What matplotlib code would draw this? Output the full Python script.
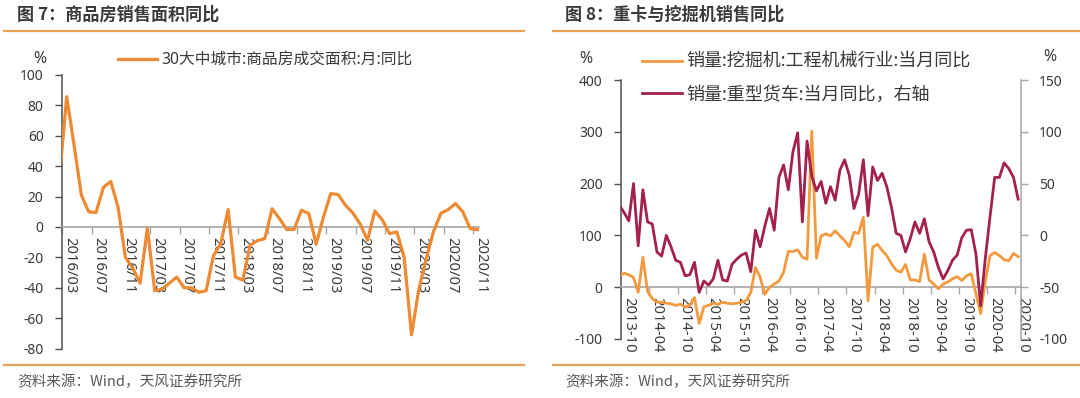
import numpy as np
import pandas as pd
import matplotlib
matplotlib.use('Agg')
import matplotlib.pyplot as plt
from matplotlib.lines import Line2D

plt.rcParams['font.family'] = ['Noto Sans', 'Noto Sans CJK SC', 'DejaVu Sans']
plt.rcParams['axes.unicode_minus'] = False

# ---------------- data ----------------
left_title = '图 7：商品房销售面积同比'
right_title = '图 8：重卡与挖掘机销售同比'
source_text = '资料来源：Wind，天风证券研究所'

house_label = '30大中城市:商品房成交面积:月:同比'
house_start, house_end = '2016-02', '2020-11'
house_yoy = [32, 85.7, 54, 21, 10, 9.5, 26, 30, 13, -20,
             -27, -37, -1, -42, -41, -37, -33, -40, -40, -43,
             -42, -19, -11, 11.5, -33, -35, -12, -9, -7.7, 12,
             5.5, -1.7, -1.7, 11, 8.8, -11.4, 6.6, 22, 21.3, 14.3,
             9.2, 2, -8.8, 10.5, 4.8, -4.4, -3.3, -20, -71, -41,
             -21, -3, 9, 11.4, 15.4, 9.9, -1.1, -1.8]
house_ticks = ['2016/03', '2016/07', '2016/11', '2017/03', '2017/07',
               '2017/11', '2018/03', '2018/07', '2018/11', '2019/03',
               '2019/07', '2019/11', '2020/03', '2020/07', '2020/11']
house_yticks = [-80, -60, -40, -20, 0, 20, 40, 60, 80, 100]

excav_label = '销量:挖掘机:工程机械行业:当月同比'
truck_label = '销量:重型货车:当月同比，右轴'
mach_start, mach_end = '2013-09', '2020-10'
excav_yoy = [22, 27, 24, 19, -10, 58, -8, -22, -29, -29,
             -31, -32, -35, -33, -38, -35, -20, -70, -38, -35,
             -31, -33, -29, -31, -32, -31, -29, -26, -10, 38,
             19, -14, 0, 6, 12, 29, 69, 69, 72, 58,
             54, 301, 56, 99, 103, 99, 109, 99, 90, 78,
             106, 104, 135, -26, 77, 83, 71, 61, 45, 33,
             29, 44, 14, 14, 11, 64, 14, 6, -3, 6,
             10, 16, 20.5, 13, 22, 26, -13, -51, 12, 61,
             67, 61, 53, 51, 65, 59]
truck_yoy = [29, 22, 14, 50, -10, 44, 13, 11, -16, -20,
             0, -11, -24, -26, -39, -38, -26, -55, -44, -48,
             -42, -24, -43, -44, -28, -23, -19, -17, -35, 5,
             -11, 9, 26, 5, 56, 68, 44, 81, 99, 13,
             91, 57, 43, 52, 31, 47, 34, 63, 73, 58,
             26, 40, 73, 19, 66, 53, 60, 47, 27, 2,
             0, -16, -3, 13, 2, 16, -6, -16, -31, -42,
             -34, -24, -19, -2, 5, 5.5, -18, -68, -22, 18,
             56, 56, 70, 64.5, 56, 35]
mach_ticks = ['2013-10', '2014-04', '2014-10', '2015-04', '2015-10',
              '2016-04', '2016-10', '2017-04', '2017-10', '2018-04',
              '2018-10', '2019-04', '2019-10', '2020-04', '2020-10']
mach_yticks_left = [-100, 0, 100, 200, 300, 400]
mach_yticks_right = [-100, -50, 0, 50, 100, 150]

# ---------------- styles ----------------
W, H = 1080, 398
C_HOUSE = '#EE8A33'
C_EXCAV = '#F39A3E'
C_TRUCK = '#A3214A'
C_SEP = '#E9A45C'
C_TXT = '#3A3A3A'
C_SRC = '#595959'
C_AX_DARK = '#505050'
C_AX_LIGHT = '#A6A6A6'
POINT_OFFSET = 0.6
CJK = ['Noto Sans CJK SC', 'DejaVu Sans']


def month_index(period, origin):
    return (period.year - origin.year) * 12 + (period.month - origin.month)


def fx(px):
    return px / W


def fy(py):
    return 1 - py / H


fig = plt.figure(figsize=(W / 100, H / 100), dpi=100)
fig.patch.set_facecolor('white')

# separators / titles / sources
for x0, x1 in [(4, 524), (553, 1080)]:
    for yy in (30.5, 365):
        fig.add_artist(Line2D([fx(x0), fx(x1)], [fy(yy), fy(yy)], transform=fig.transFigure,
                              color=C_SEP, lw=1.6))
for xt, title in [(17, left_title), (565, right_title)]:
    fig.text(fx(xt), fy(14.5), title, fontsize=12.3, fontweight='bold', color=C_TXT,
             ha='left', va='center', family=CJK)
    fig.text(fx(xt), fy(382), source_text, fontsize=10.5, color=C_SRC, ha='left',
             va='center', family=CJK)


def style_xaxis(ax, tick_pos, tick_labels):
    ax.spines['bottom'].set_position(('data', 0))
    ax.spines['bottom'].set_color(C_AX_LIGHT)
    ax.spines['bottom'].set_linewidth(1.2)
    ax.spines['top'].set_visible(False)
    ax.set_xticks(tick_pos)
    ax.set_xticklabels(tick_labels, rotation=-90, ha='left', va='top',
                       fontsize=10.6, color=C_TXT)
    ax.tick_params(axis='x', direction='out', length=5, width=1, color=C_AX_LIGHT, pad=2)


# ---------------- left panel ----------------
h_periods = pd.period_range(house_start, house_end, freq='M')
h_origin = pd.Period(house_ticks[0].replace('/', '-'), freq='M')
h_x = np.array([month_index(p, h_origin) for p in h_periods]) + POINT_OFFSET
h_tick_pos = [month_index(pd.Period(t.replace('/', '-'), freq='M'), h_origin) for t in house_ticks]

axL = fig.add_axes([fx(62.3), fy(348.5), fx(479 - 62.3), (348.5 - 75) / H])
axL.set_facecolor('none')
line_h, = axL.plot(h_x, house_yoy, color=C_HOUSE, lw=2.3, solid_joinstyle='round',
                   label=house_label, zorder=3)
axL.set_xlim(0, 56.8)
axL.set_ylim(-80, 100)
axL.spines['right'].set_visible(False)
axL.spines['left'].set_color(C_AX_DARK)
axL.spines['left'].set_linewidth(1.1)
axL.set_yticks(house_yticks)
axL.set_yticklabels([str(v) for v in house_yticks], fontsize=10, color=C_TXT)
axL.tick_params(axis='y', direction='out', length=5, width=1, color=C_AX_DARK, pad=8.5)
style_xaxis(axL, h_tick_pos, house_ticks)
fig.text(fx(40), fy(59), '%', fontsize=11.5, color=C_TXT, ha='center', va='center')
axL.legend(handles=[line_h], loc='center left', bbox_to_anchor=(fx(118), fy(60)),
           bbox_transform=fig.transFigure, frameon=False, fontsize=11.3,
           handlelength=2.5, handletextpad=0.25, borderpad=0, borderaxespad=0,
           labelcolor=C_TXT)

# ---------------- right panel ----------------
m_periods = pd.period_range(mach_start, mach_end, freq='M')
m_origin = pd.Period(mach_ticks[0], freq='M')
m_x = np.array([month_index(p, m_origin) for p in m_periods]) + POINT_OFFSET
m_tick_pos = [month_index(pd.Period(t, freq='M'), m_origin) for t in mach_ticks]

axR = fig.add_axes([fx(621.3), fy(339), fx(1020.5 - 621.3), (339 - 80) / H])
axR.set_facecolor('none')
line_e, = axR.plot(m_x, excav_yoy, color=C_EXCAV, lw=2.0, solid_joinstyle='round',
                   label=excav_label, zorder=3)
axR.set_xlim(0, 85.1)
axR.set_ylim(-100, 400)
axR.spines['right'].set_visible(False)
axR.spines['left'].set_color(C_AX_DARK)
axR.spines['left'].set_linewidth(1.1)
axR.set_yticks(mach_yticks_left)
axR.set_yticklabels([str(v) for v in mach_yticks_left], fontsize=10, color=C_TXT)
axR.tick_params(axis='y', direction='out', length=5, width=1, color=C_AX_DARK, pad=8.5)
style_xaxis(axR, m_tick_pos, mach_ticks)

axR2 = axR.twinx()
axR2.set_facecolor('none')
line_t, = axR2.plot(m_x, truck_yoy, color=C_TRUCK, lw=2.0, solid_joinstyle='round',
                    label=truck_label, zorder=3)
axR2.set_xlim(0, 85.1)
axR2.set_ylim(-100, 150)
for s in ('left', 'top', 'bottom'):
    axR2.spines[s].set_visible(False)
axR2.spines['right'].set_color(C_AX_LIGHT)
axR2.spines['right'].set_linewidth(1.1)
axR2.set_yticks(mach_yticks_right)
axR2.set_yticklabels([str(v) for v in mach_yticks_right], fontsize=10, color=C_TXT)
axR2.tick_params(axis='y', direction='out', length=5, width=1, color=C_AX_LIGHT, pad=8.5)

fig.text(fx(586), fy(59), '%', fontsize=11.5, color=C_TXT, ha='center', va='center')
fig.text(fx(1050), fy(57), '%', fontsize=11.5, color=C_TXT, ha='center', va='center')
axR2.legend(handles=[line_e, line_t], loc='upper left', bbox_to_anchor=(fx(642), fy(53)),
            bbox_transform=fig.transFigure, frameon=False, fontsize=13,
            handlelength=2.2, handletextpad=0.25, borderpad=0, borderaxespad=0,
            labelspacing=0.82, labelcolor=C_TXT)

fig.savefig('out.png', dpi=100, facecolor='white')
